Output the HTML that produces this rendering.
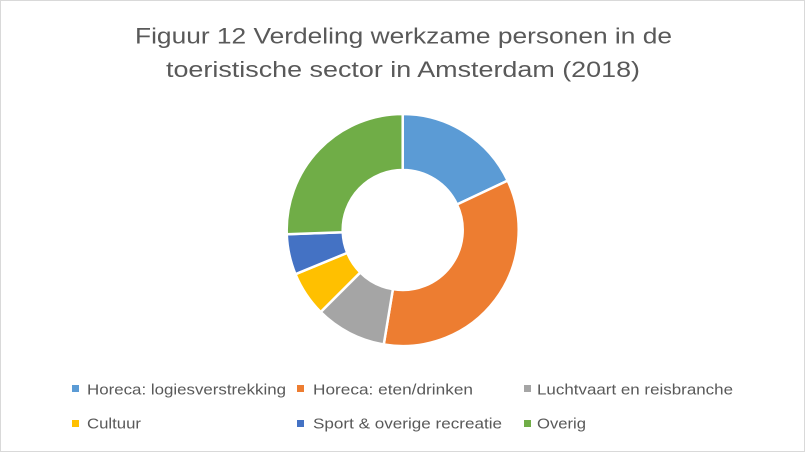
<!DOCTYPE html>
<html>
<head>
<meta charset="utf-8">
<style>
  html, body { margin: 0; padding: 0; background: #fff; }
  body { width: 805px; height: 452px; overflow: hidden; }
  svg { display: block; }
  text { font-family: "Liberation Sans", "DejaVu Sans", sans-serif; fill: #595959; }
</style>
</head>
<body>
<svg width="805" height="452" viewBox="0 0 805 452" xmlns="http://www.w3.org/2000/svg">
  <rect x="0.5" y="0.5" width="804" height="451" fill="#ffffff" stroke="#d9d9d9" stroke-width="1"/>

  <!-- Title -->
  <text x="135" y="43.5" font-size="22" textLength="537" lengthAdjust="spacingAndGlyphs">Figuur 12 Verdeling werkzame personen in de</text>
  <text x="166" y="77" font-size="22" textLength="474" lengthAdjust="spacingAndGlyphs">toeristische sector in Amsterdam (2018)</text>

  <!-- Donut -->
  <g stroke="#ffffff" stroke-width="2.5" stroke-linejoin="round">
    <!-- Horeca: logiesverstrekking -->
    <path fill="#5B9BD5" d="M402.7,114 A116,116 0 0 1 507.66,180.61 L456.99,204.45 A60,60 0 0 0 402.7,170 Z"/>
    <!-- Horeca: eten/drinken -->
    <path fill="#ED7D31" d="M507.66,180.61 A116,116 0 0 1 383.76,344.45 L392.9,289.2 A60,60 0 0 0 456.99,204.45 Z"/>
    <!-- Luchtvaart en reisbranche -->
    <path fill="#A5A5A5" d="M383.76,344.45 A116,116 0 0 1 320.68,312.02 L360.27,272.43 A60,60 0 0 0 392.9,289.2 Z"/>
    <!-- Cultuur -->
    <path fill="#FFC000" d="M320.68,312.02 A116,116 0 0 1 295.46,274.21 L347.23,252.87 A60,60 0 0 0 360.27,272.43 Z"/>
    <!-- Sport & overige recreatie -->
    <path fill="#4472C4" d="M295.46,274.21 A116,116 0 0 1 286.78,234.25 L342.74,232.2 A60,60 0 0 0 347.23,252.87 Z"/>
    <!-- Overig -->
    <path fill="#70AD47" d="M286.78,234.25 A116,116 0 0 1 402.7,114 L402.7,170 A60,60 0 0 0 342.74,232.2 Z"/>
  </g>

  <!-- Legend row 1 -->
  <rect x="72" y="385" width="7" height="7" fill="#5B9BD5"/>
  <text x="87" y="394.7" font-size="15" textLength="199" lengthAdjust="spacingAndGlyphs">Horeca: logiesverstrekking</text>

  <rect x="297" y="385" width="7" height="7" fill="#ED7D31"/>
  <text x="313" y="394.7" font-size="15" textLength="160" lengthAdjust="spacingAndGlyphs">Horeca: eten/drinken</text>

  <rect x="524" y="385" width="7" height="7" fill="#A5A5A5"/>
  <text x="537" y="394.7" font-size="15" textLength="196" lengthAdjust="spacingAndGlyphs">Luchtvaart en reisbranche</text>

  <!-- Legend row 2 -->
  <rect x="72" y="420" width="7" height="7" fill="#FFC000"/>
  <text x="87" y="428.7" font-size="15" textLength="54" lengthAdjust="spacingAndGlyphs">Cultuur</text>

  <rect x="297" y="420" width="7" height="7" fill="#4472C4"/>
  <text x="313" y="428.7" font-size="15" textLength="189" lengthAdjust="spacingAndGlyphs">Sport &amp; overige recreatie</text>

  <rect x="524" y="420" width="7" height="7" fill="#70AD47"/>
  <text x="537" y="428.7" font-size="15" textLength="49" lengthAdjust="spacingAndGlyphs">Overig</text>
</svg>
</body>
</html>
